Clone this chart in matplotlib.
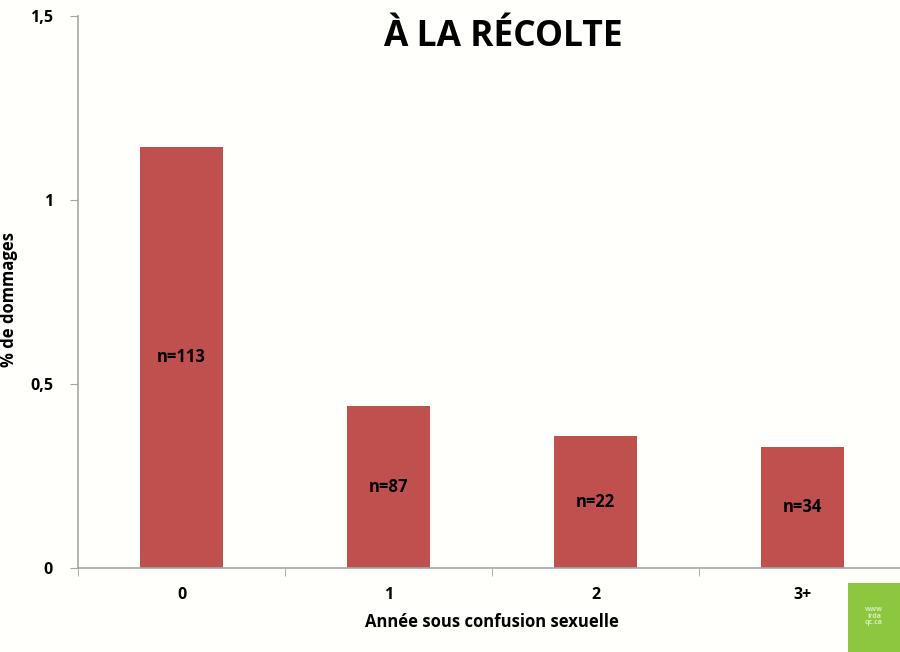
import matplotlib
matplotlib.use("Agg")
import matplotlib.pyplot as plt
import numpy as np
from matplotlib.patches import Rectangle

# Data
categories = ["0", "1", "2", "3+"]
damage_pct = [1.145, 0.44, 0.36, 0.33]
sample_labels = ["n=113", "n=87", "n=22", "n=34"]
yticks = [0, 0.5, 1, 1.5]
ytick_labels = ["0", "0,5", "1", "1,5"]

BAR_COLOR = "#C0504D"
BG = "#FFFFFC"
AXIS_GRAY = "#A6A6A6"

plt.rcParams["font.family"] = ["Open Sans", "DejaVu Sans"]
plt.rcParams["font.weight"] = "bold"

fig = plt.figure(figsize=(9, 6.52), dpi=100, facecolor=BG)
ax = fig.add_axes([0.0867, 0.1288, 0.92, 0.8467], facecolor=BG)

x = np.arange(len(categories))
ax.bar(x, damage_pct, width=0.4, color=BAR_COLOR, edgecolor="none", zorder=2)

for xi, val, lab in zip(x, damage_pct, sample_labels):
    ax.text(xi, val / 2, lab, ha="center", va="center", fontsize=12,
            fontweight="bold", color="black", zorder=3)

ax.set_xlim(-0.5, len(categories) - 0.5)
ax.set_ylim(0, 1.5)

ax.set_yticks(yticks)
ax.set_yticklabels(ytick_labels, fontsize=11.5, fontweight="bold")
ax.set_xticks(x)
ax.set_xticklabels(categories, fontsize=11.5, fontweight="bold")
ax.tick_params(axis="x", length=0, pad=14)
ax.tick_params(axis="y", length=6, color=AXIS_GRAY, pad=12)

# category separator ticks on the x axis
ax.set_xticks(np.arange(len(categories) + 1) - 0.5, minor=True)
ax.tick_params(axis="x", which="minor", length=6, color=AXIS_GRAY)

for side in ["top", "right"]:
    ax.spines[side].set_visible(False)
for side in ["left", "bottom"]:
    ax.spines[side].set_color(AXIS_GRAY)
    ax.spines[side].set_linewidth(1.2)

ax.set_xlabel("Année sous confusion sexuelle", fontsize=12, fontweight="bold")
ax.xaxis.set_label_coords((492 - 78) / 828, -(613 - 568) / 552)
ax.set_ylabel("% de dommages", fontsize=12, fontweight="bold")
ax.yaxis.set_label_coords(-(78 - 18) / 828, (568 - 300) / 552)

fig.text(0.559, 0.943, "À LA RÉCOLTE", ha="center", va="center",
         fontsize=25.5, fontweight="bold", color="black")

# green logo block bottom right
fig.patches.append(Rectangle((848 / 900, 0), 52 / 900, 69 / 652,
                             transform=fig.transFigure, facecolor="#8DC63F",
                             edgecolor="none", zorder=5))
fig.text(874 / 900, 36 / 652, "www\nirda\nqc.ca", ha="center", va="center",
         fontsize=5, color="#D8EDB8", zorder=6, linespacing=0.9)

fig.savefig("out.png", dpi=100, facecolor=BG)
